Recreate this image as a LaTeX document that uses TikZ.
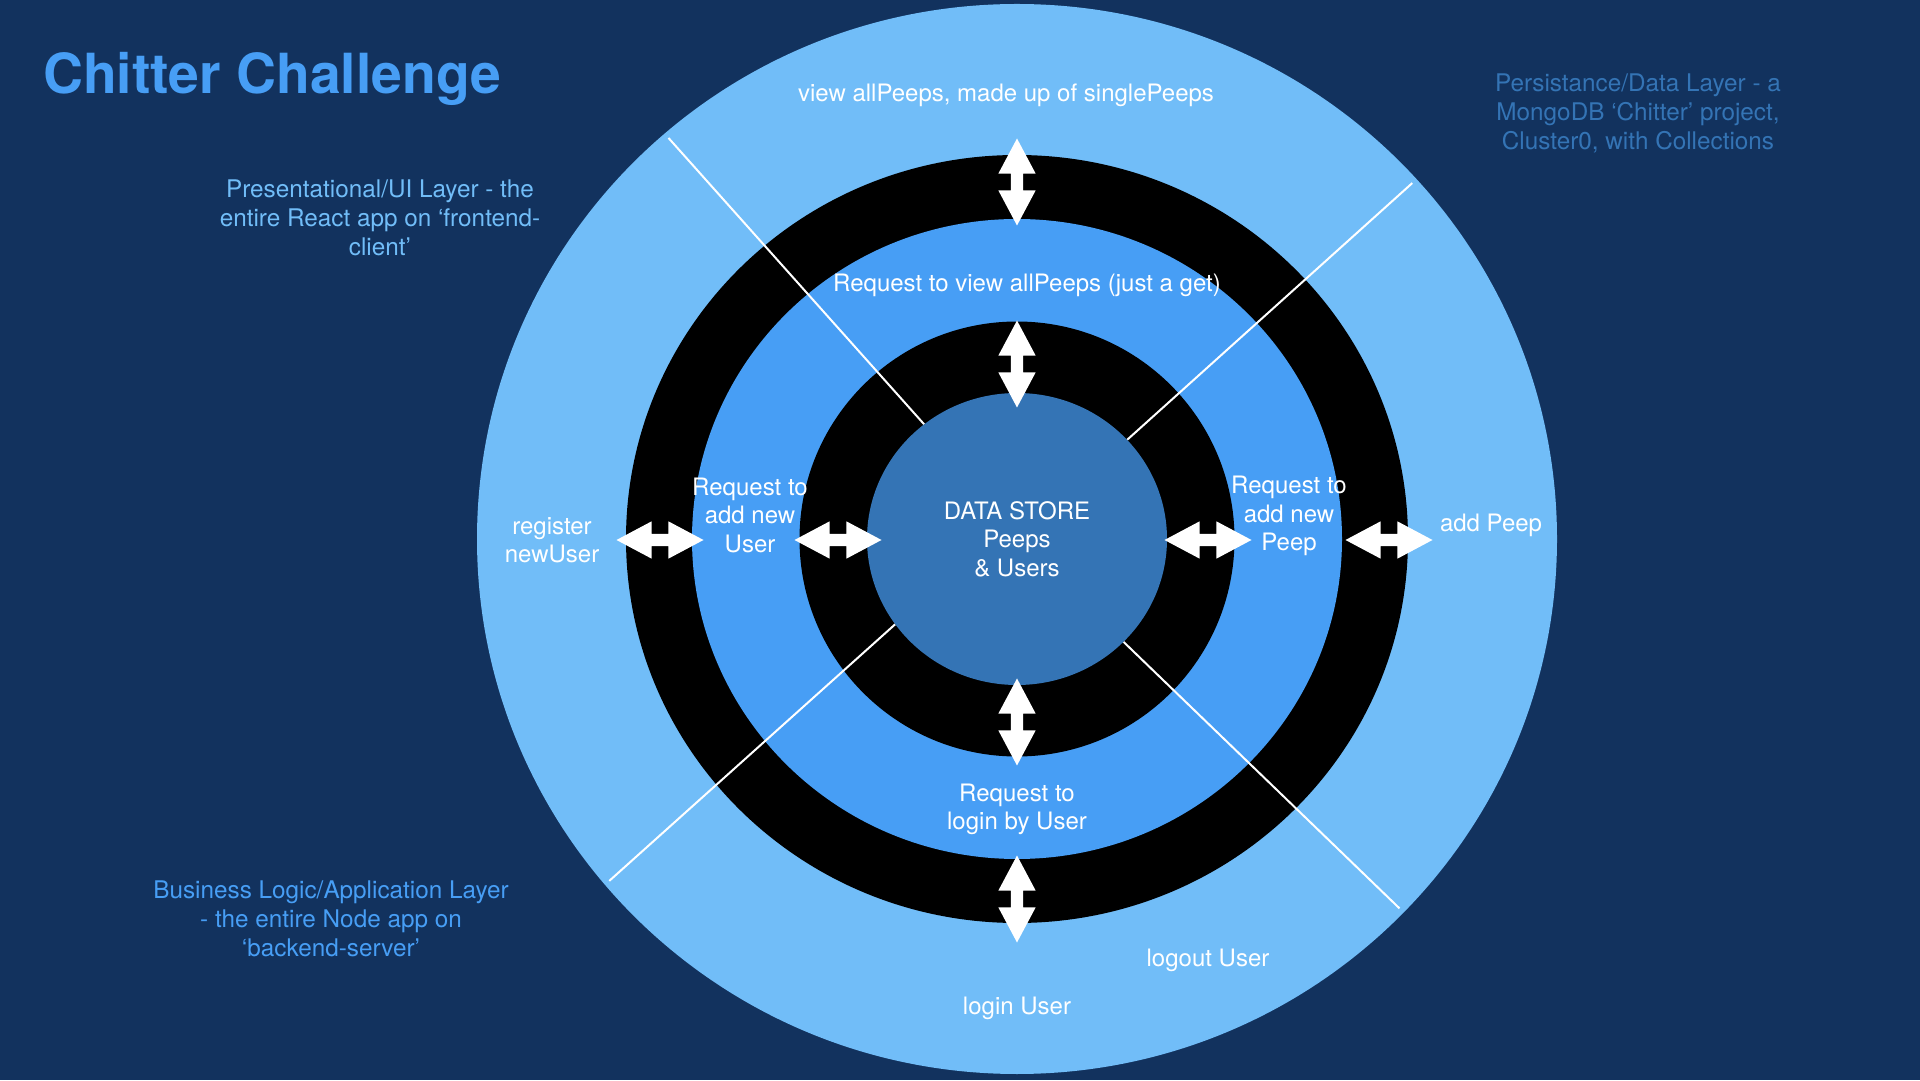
\documentclass[tikz,border=0pt]{standalone}
\usepackage{fontspec}
\setmainfont{TeX Gyre Heros}
\usepackage{xcolor}
\usepackage{tikz}
\usetikzlibrary{shapes.geometric, shapes.arrows, positioning, calc}

\definecolor{navy}{HTML}{12325E}
\definecolor{uiblue}{HTML}{71BDF8}
\definecolor{appblue}{HTML}{479EF5}
\definecolor{dbblue}{HTML}{3474B5}

\begin{document}
\begin{tikzpicture}[x=1pt, y=1pt,
	ring node/.style={ellipse, inner sep=0pt, draw=none},
	io arrow/.style={double arrow, fill=white, draw=none, inner sep=6pt, minimum height=87pt, double arrow head extend=12.5pt, double arrow tip angle=56},
	ring label/.style={text=white, align=center, font=\fontsize{24}{28.5}\selectfont},
	side label/.style={align=center, font=\fontsize{24.3}{29}\selectfont}]
		
		% Background
		\useasboundingbox (0,0) rectangle (1920,1080);
		\fill[navy] (0,0) rectangle (1920,1080);
		\coordinate (c) at (1017,541);
		
		% Rings
		\node[ring node, fill=uiblue, minimum width=1080pt, minimum height=1070pt] (layerUI) at (c) {};
		\node[ring node, fill=black, minimum width=782pt, minimum height=768pt] (gapOut) at (c) {};
		\node[ring node, fill=appblue, minimum width=650pt, minimum height=640pt] (layerApp) at (c) {};
		\node[ring node, fill=black, minimum width=435pt, minimum height=435pt] (gapIn) at (c) {};
		\node[ring node, fill=dbblue, minimum width=300pt, minimum height=292pt, text=white, align=center, font=\fontsize{24}{28.5}\selectfont] (store) at (c) {DATA STORE\\Peeps\\\& Users};
		
		% Dividers
		\draw[white, line width=2pt, shorten >=6pt] (store.129) -- (layerUI.131.5);
		\draw[white, line width=2pt, shorten >=6pt] (store.42) -- (layerUI.42);
		\draw[white, line width=2pt, shorten >=6pt] (store.215) -- (layerUI.220);
		\draw[white, line width=2pt, shorten >=6pt] (store.-44.5) -- (layerUI.-44.5);
		
		% Arrows
		\node[io arrow, rotate=90] (upOut) at (1017,898) {};
		\node[io arrow, rotate=90] (upIn) at (1017,716) {};
		\node[io arrow, rotate=90] (downIn) at (1017,358) {};
		\node[io arrow, rotate=90] (downOut) at (1017,181) {};
		\node[io arrow] (leftOut) at (660,540) {};
		\node[io arrow] (leftIn) at (838,540) {};
		\node[io arrow] (rightIn) at (1208,540) {};
		\node[io arrow] (rightOut) at (1389,540) {};
		
		% Labels
		\node[ring label] (viewAll) at (1006,984.5) {view allPeeps, made up of singlePeeps};
		\node[ring label] (reqView) at (1027,794.5) {Request to view allPeeps (just a get)};
		\node[ring label] (reqUser) at (750,565) {Request to\\add new\\User};
		\node[ring label] (reqPeep) at (1289,564) {Request to\\add new\\Peep};
		\node[ring label] (register) at (552,540) {register\\newUser};
		\node[ring label] (addPeep) at (1491,554.5) {add Peep};
		\node[ring label] (reqLogin) at (1017,270.5) {Request to\\login by User};
		\node[ring label] (logout) at (1208,119.5) {logout User};
		\node[ring label] (login) at (1017,71.5) {login User};
		
		% Layers
		\node[anchor=base west, inner sep=0pt, text=appblue, font=\fontsize{55.3}{60}\selectfont\bfseries] (title) at (43,986) {Chitter Challenge};
		\node[side label, text=uiblue] (uiNote) at (380,862) {Presentational/UI Layer - the\\entire React app on ‘frontend-\\client’};
		\node[side label, text=dbblue] (dbNote) at (1638,967) {Persistance/Data Layer - a\\MongoDB ‘Chitter’ project,\\Cluster0, with Collections};
		\node[side label, text=appblue] (appNote) at (331,161) {Business Logic/Application Layer\\- the entire Node app on\\‘backend-server’};
	\end{tikzpicture}
\end{document}
